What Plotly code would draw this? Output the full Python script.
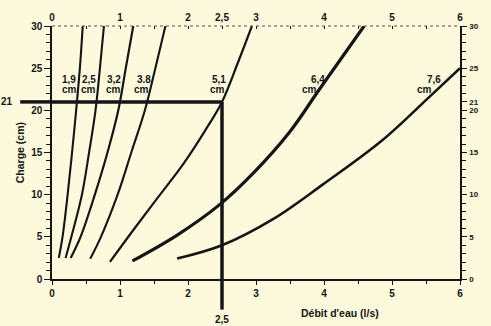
import plotly.graph_objects as go

# ---- data ----
diam_labels = ["1,9", "2,5", "3,2", "3.8", "5,1", "6,4", "7,6"]

h_std = [2.5, 5, 10, 15, 20, 25, 30]

q_19 = [0.10, 0.155, 0.23, 0.295, 0.355, 0.41, 0.452]
h_19 = h_std

q_25 = [0.20, 0.285, 0.44, 0.545, 0.64, 0.705, 0.764]
h_25 = h_std

q_32 = [0.275, 0.42, 0.63, 0.816, 0.975, 1.085, 1.195]
h_32 = h_std

q_38 = [0.562, 0.72, 0.965, 1.166, 1.366, 1.52, 1.668]
h_38 = [2.4, 5, 10, 15, 20, 25, 30]

q_51 = [0.852, 1.207, 1.572, 1.937, 2.254, 2.5, 2.736, 2.94]
h_51 = [2.03, 5.93, 9.82, 13.72, 17.63, 21, 25.7, 30]

q_64 = [1.183, 1.83, 2.47, 2.96, 3.495, 3.933, 4.59]
h_64 = [2.14, 5.15, 8.85, 12.55, 17.43, 22.5, 30]

q_76 = [1.84, 2.5, 3.25, 3.98, 4.857, 5.55, 6.0]
h_76 = [2.42, 4.0, 7.1, 11.19, 16.45, 21.6, 25.0]

ref_q = 2.5
ref_h = 21

x_ticks_bottom = [0, 1, 2, 3, 4, 5, 6]
x_ticks_top = [0, 1, 2, 2.5, 3, 4, 5, 6]
x_ticks_top_text = ["0", "1", "2", "2,5", "3", "4", "5", "6"]
y_ticks_left = [0, 5, 10, 15, 20, 25, 30]
y_ticks_right = [0, 5, 10, 15, 20, 21, 25, 30]

# ---- style ----
BG = "#fdf9dc"
INK = "#151515"
FONT = "Liberation Sans"

curves = [
    (q_19, h_19, 2.1), (q_25, h_25, 2.1), (q_32, h_32, 2.2), (q_38, h_38, 2.1),
    (q_51, h_51, 2.2), (q_64, h_64, 3.2), (q_76, h_76, 2.6),
]

fig = go.Figure()
for q, h, w in curves:
    fig.add_trace(go.Scatter(x=q, y=h, mode="lines",
                             line=dict(color=INK, width=w, shape="spline", smoothing=1.0),
                             showlegend=False, hoverinfo="skip"))

# dummy traces for secondary axes
fig.add_trace(go.Scatter(x=[0], y=[0], xaxis="x2", yaxis="y", mode="markers",
                         marker=dict(opacity=0), showlegend=False, hoverinfo="skip"))
fig.add_trace(go.Scatter(x=[0], y=[0], xaxis="x", yaxis="y2", mode="markers",
                         marker=dict(opacity=0), showlegend=False, hoverinfo="skip"))

tickfont = dict(family=FONT, size=10, color=INK, weight="bold")
tickfont_r = dict(family=FONT, size=8, color=INK, weight="bold")

fig.update_layout(
    width=491, height=326,
    margin=dict(l=52, r=28, t=22, b=47),
    paper_bgcolor=BG, plot_bgcolor=BG,
    showlegend=False,
    xaxis=dict(range=[0, 6], tickvals=x_ticks_bottom, ticks="outside", ticklen=4,
               tickwidth=1.2, tickcolor=INK, showline=True, linecolor=INK, linewidth=1.5,
               showgrid=False, zeroline=False, tickfont=tickfont,
               minor=dict(dtick=0.5, ticks="outside", ticklen=3, tickcolor=INK, showgrid=False)),
    xaxis2=dict(range=[0, 6], overlaying="x", side="top", tickvals=x_ticks_top,
                ticktext=x_ticks_top_text, ticks="inside", ticklen=3, tickcolor=INK,
                tickwidth=1, showline=False, showgrid=False, zeroline=False,
                tickfont=tickfont, ticklabelstandoff=2,
                minor=dict(dtick=0.5, ticks="inside", ticklen=3, tickcolor=INK, showgrid=False)),
    yaxis=dict(range=[0, 30], tickvals=y_ticks_left, ticks="outside", ticklen=6,
               tickwidth=1.3, tickcolor=INK, showline=True, linecolor=INK, linewidth=1.5,
               showgrid=False, zeroline=False, tickfont=tickfont,
               minor=dict(dtick=1, ticks="outside", ticklen=4, tickcolor=INK, showgrid=False)),
    yaxis2=dict(range=[0, 30], overlaying="y", side="right", tickvals=y_ticks_right,
                ticks="outside", ticklen=5, tickwidth=1.3, tickcolor=INK, showline=True,
                linecolor=INK, linewidth=1.5, showgrid=False, zeroline=False,
                tickfont=tickfont_r, ticklabelstandoff=1,
                minor=dict(dtick=1, ticks="outside", ticklen=4, tickcolor=INK, showgrid=False)),
)

# dotted top border
fig.add_shape(type="line", xref="paper", yref="paper", x0=0, x1=1, y0=1, y1=1,
              line=dict(color="#555", width=1, dash="dot"))

# reference lines (21 cm / 2,5 l/s)
fig.add_shape(type="line", xref="x", yref="y", x0=0, x1=ref_q, y0=ref_h, y1=ref_h,
              line=dict(color=INK, width=3.5))
fig.add_shape(type="line", xref="paper", yref="y", x0=-0.078, x1=0, y0=ref_h, y1=ref_h,
              line=dict(color=INK, width=3.5))
fig.add_shape(type="line", xref="x", yref="y", x0=ref_q, x1=ref_q, y0=0, y1=ref_h,
              line=dict(color=INK, width=3.5))
fig.add_shape(type="line", xref="x", yref="paper", x0=ref_q, x1=ref_q, y0=-0.121, y1=0,
              line=dict(color=INK, width=3.5))

labfont = dict(family=FONT, size=10, color=INK, weight="bold")
fig.add_annotation(text="21", xref="paper", yref="y", x=-0.091, y=ref_h, xanchor="right",
                   yanchor="middle", showarrow=False, font=labfont)
fig.add_annotation(text="2,5", xref="x", yref="paper", x=ref_q, y=-0.16, xanchor="center",
                   yanchor="middle", showarrow=False, font=labfont)

# curve labels
lab_pos = [
    (0.251, 0.251), (0.546, 0.536), (0.908, 0.901), (1.346, 1.32),
    (2.46, 2.434), (3.908, 3.791), (5.616, 5.485),
]
for name, (xa, xb) in zip(diam_labels, lab_pos):
    fig.add_annotation(text=name, x=xa, y=23.66, xref="x", yref="y", showarrow=False,
                       xanchor="center", yanchor="middle", font=labfont)
    fig.add_annotation(text="cm", x=xb, y=22.42, xref="x", yref="y", showarrow=False,
                       xanchor="center", yanchor="middle", font=labfont)

# axis titles
fig.add_annotation(text="Débit d'eau (l/s)", xref="paper", yref="paper", x=0.707, y=-0.133,
                   xanchor="center", yanchor="middle", showarrow=False,
                   font=dict(family=FONT, size=10.5, color=INK, weight="bold"))
fig.add_annotation(text="Charge (cm)", xref="paper", yref="paper", x=-0.079, y=0.5,
                   textangle=-90, xanchor="center", yanchor="middle", showarrow=False,
                   font=dict(family=FONT, size=10.5, color=INK, weight="bold"))

fig.write_html("out.html")
